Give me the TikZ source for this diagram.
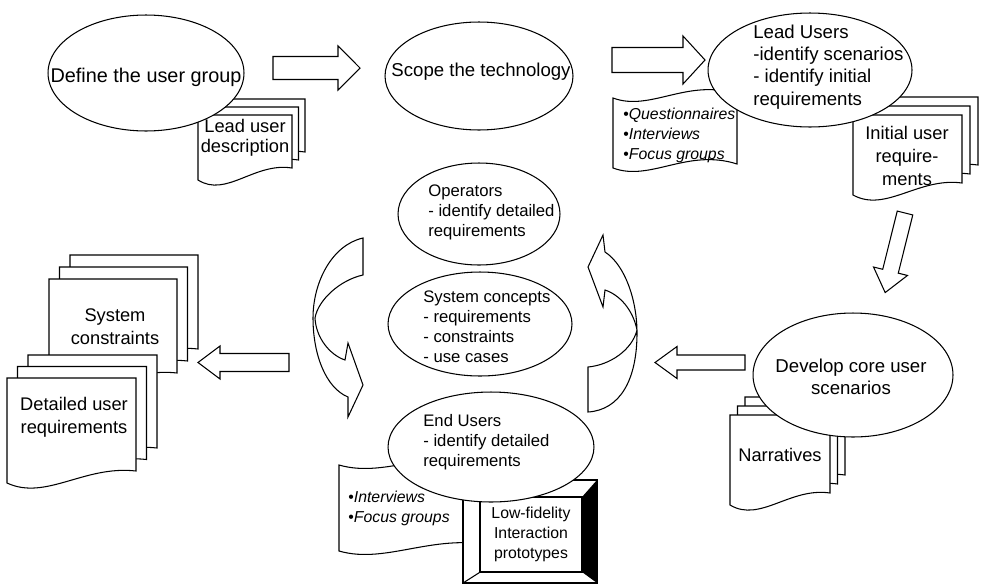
\documentclass[tikz,border=0pt]{standalone}
\usepackage{fontspec}
\setmainfont{Liberation Sans}
\usetikzlibrary{shapes}

\tikzset{
  outline/.style={draw,line width=0.6pt,fill=white},
  stage/.style={outline,ellipse,inner sep=0pt},
  bigtext/.style={font=\fontsize{10.6}{12.6}\selectfont,inner sep=0pt},
  doctext/.style={font=\fontsize{10.4}{13}\selectfont,align=center,inner sep=0pt},
  roletext/.style={font=\fontsize{9.5}{11.4}\selectfont,align=left,inner sep=0pt},
  methodtext/.style={font=\fontsize{9}{11.4}\selectfont,align=left,inner sep=0pt}
}

% one page with a wavy lower edge
\newcommand{\docpage}[4]{%
  \draw[outline] (#1,#2) -- (#3,#2) -- (#3,{#4-12})
    .. controls ({#1+0.6*(#3-#1)},{#4-18}) and ({#1+0.3*(#3-#1)},{#4+18}) .. (#1,#4) -- cycle;}
% three pages, back to front
\newcommand{\docstack}[6]{%
  \foreach \k in {2,1,0}{%
    \begin{scope}[shift={({\k*(#5)},{\k*(#6)})}]
      \docpage{#1}{#2}{#3}{#4}
    \end{scope}}}
% punched tape
\newcommand{\tape}[4]{%
  \draw[outline] (#1,#2)
    .. controls ({#1+0.3*(#3-#1)},{#2+14}) and ({#1+0.6*(#3-#1)},{#2-20}) .. (#3,{#2-4})
    -- (#3,{#4-4})
    .. controls ({#1+0.6*(#3-#1)},{#4-20}) and ({#1+0.3*(#3-#1)},{#4+14}) .. (#1,#4) -- cycle;}
% hollow block arrow: tail, direction, length, half shaft, half head
\newcommand{\blockarrow}[6]{%
  \draw[outline,shift={(#1,#2)},rotate=#3]
    (0,-#5) -- ({#4-22},-#5) -- ({#4-22},-#6) -- (#4,0)
    -- ({#4-22},#6) -- ({#4-22},#5) -- (0,#5) -- cycle;}

\begin{document}
\begin{tikzpicture}[x=0.02cm,y=-0.02cm]
\useasboundingbox (0,0) rectangle (982,585);

\docstack{198}{115}{292}{180}{6.5}{-8}
\node[doctext,font=\fontsize{10.4}{11.4}\selectfont] (leaddesc) at (245,138) {Lead user\\description};
\node[stage,minimum width=3.92cm,minimum height=2.32cm] (define) at (146,73) {};
\node[bigtext,font=\fontsize{11.3}{13}\selectfont] (definetxt) at (146,77) {Define the user group};

\node[stage,minimum width=3.76cm,minimum height=2.16cm] (scope) at (479,76) {};
\node[bigtext] (scopetxt) at (481,72) {Scope the technology};

\tape{613}{98}{737}{168}
\node[methodtext,anchor=west] (leadmethods) at (623,135)
  {\textbullet\textit{Questionnaires}\\\textbullet\textit{Interviews}\\\textbullet\textit{Focus groups}};
\docstack{853}{115}{962}{195}{8}{-9}
\node[doctext] (initreq) at (907,156) {Initial user\\require-\\ments};
\node[stage,minimum width=4.08cm,minimum height=2.28cm] (lead) at (810,70) {};
\node[bigtext,align=left,anchor=west] (leadtxt) at (753,67)
  {Lead Users\\-identify scenarios\\- identify initial\\requirements};

\docstack{730}{415}{830}{505}{7.5}{-9}
\node[doctext] (narr) at (780,455) {Narratives};
\node[stage,minimum width=4cm,minimum height=2.48cm] (develop) at (853,375) {};
\node[bigtext,align=center] (developtxt) at (851,377) {Develop core user\\scenarios};

\docstack{49}{279}{177}{385}{10.5}{-12}
\node[doctext] (sysc) at (115,327) {System\\constraints};
\docstack{7}{378}{136}{483}{10.5}{-11.5}
\node[doctext] (detreq) at (74,417) {Detailed user\\requirements};

\node[stage,minimum width=3.24cm,minimum height=2.04cm] (oper) at (479,214) {};
\node[roletext,anchor=west] (opertxt) at (428,212) {Operators\\- identify detailed\\requirements};
\node[stage,minimum width=3.68cm,minimum height=2.08cm] (concept) at (480,324) {};
\node[roletext,anchor=west] (concepttxt) at (423,327)
  {System concepts\\- requirements\\- constraints\\- use cases};

\tape{339}{465}{500}{551}
\node[methodtext,anchor=west] (endmethods) at (348,508)
  {\textbullet\textit{Interviews}\\\textbullet\textit{Focus groups}};
\draw[outline] (463,480) rectangle (597,583);
\fill (582,497) -- (597,480) -- (597,583) -- (582,572) -- cycle;
\node[outline,minimum width=2.04cm,minimum height=1.5cm,inner sep=0pt,
  font=\fontsize{9}{11.4}\selectfont,align=center] (proto) at (531,534.5)
  {Low-fidelity\\Interaction\\prototypes};
\draw[line width=0.6pt] (463,480) -- (proto.north west) (463,583) -- (proto.south west);
\node[stage,minimum width=4.12cm,minimum height=2.2cm] (end) at (491,447) {};
\node[roletext,anchor=west] (endtxt) at (423,442) {End Users\\- identify detailed\\requirements};

\blockarrow{273}{68}{0}{87}{11.5}{22}
\blockarrow{612}{60}{0}{93}{12.5}{24}
\blockarrow{905}{213}{-104}{82}{8}{17.5}
\blockarrow{745}{362.5}{180}{90}{7.5}{16}
\blockarrow{289}{362.5}{180}{91}{9}{16.5}

% twisted arrows round the centre
\draw[outline] (363,238) -- (363,275)
  .. controls (340,280) and (318,300) .. (315,318)
  .. controls (316,338) and (330,355) .. (345,360)
  -- (348,343) -- (363,385) -- (348,417) -- (348,397)
  .. controls (326,388) and (313,355) .. (313,318)
  .. controls (313,282) and (332,245) .. (363,238) -- cycle;
\draw[outline] (603,235) -- (605,252)
  .. controls (625,265) and (637,300) .. (637,333)
  .. controls (637,380) and (620,410) .. (588,412)
  -- (588,367)
  .. controls (610,365) and (632,350) .. (637,330)
  .. controls (633,310) and (620,295) .. (605,290)
  -- (603,307) -- (588,267) -- cycle;
\end{tikzpicture}
\end{document}
